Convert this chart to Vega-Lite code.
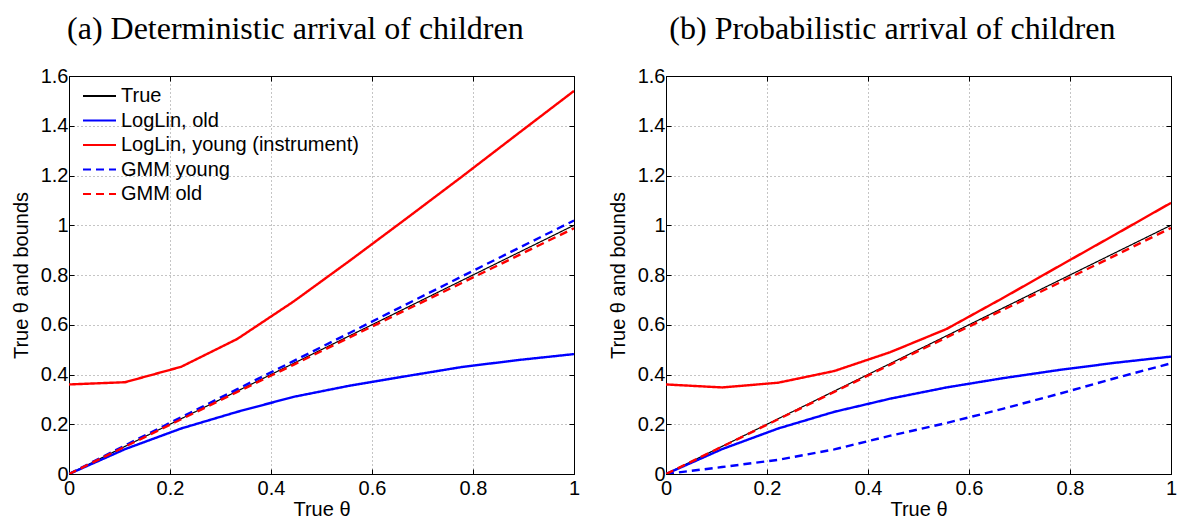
{
  "$schema": "https://vega.github.io/schema/vega-lite/v6.json",
  "padding": {"left": 10, "top": 12, "right": 2, "bottom": 0},
  "background": "white",
  "datasets": {
    "curves": [
      {"panel": "a", "series": "True", "x": 0, "y": 0},
      {"panel": "a", "series": "True", "x": 0.1111, "y": 0.1111},
      {"panel": "a", "series": "True", "x": 0.2222, "y": 0.2222},
      {"panel": "a", "series": "True", "x": 0.3333, "y": 0.3333},
      {"panel": "a", "series": "True", "x": 0.4444, "y": 0.4444},
      {"panel": "a", "series": "True", "x": 0.5556, "y": 0.5556},
      {"panel": "a", "series": "True", "x": 0.6667, "y": 0.6667},
      {"panel": "a", "series": "True", "x": 0.7778, "y": 0.7778},
      {"panel": "a", "series": "True", "x": 0.8889, "y": 0.8889},
      {"panel": "a", "series": "True", "x": 1, "y": 1},
      {"panel": "a", "series": "LogLin, old", "x": 0, "y": 0},
      {"panel": "a", "series": "LogLin, old", "x": 0.1111, "y": 0.1},
      {"panel": "a", "series": "LogLin, old", "x": 0.2222, "y": 0.183},
      {"panel": "a", "series": "LogLin, old", "x": 0.3333, "y": 0.25},
      {"panel": "a", "series": "LogLin, old", "x": 0.4444, "y": 0.31},
      {"panel": "a", "series": "LogLin, old", "x": 0.5556, "y": 0.355},
      {"panel": "a", "series": "LogLin, old", "x": 0.6667, "y": 0.393},
      {"panel": "a", "series": "LogLin, old", "x": 0.7778, "y": 0.43},
      {"panel": "a", "series": "LogLin, old", "x": 0.8889, "y": 0.458},
      {"panel": "a", "series": "LogLin, old", "x": 1, "y": 0.482},
      {"panel": "a", "series": "LogLin, young (instrument)", "x": 0, "y": 0.36},
      {"panel": "a", "series": "LogLin, young (instrument)", "x": 0.1111, "y": 0.369},
      {"panel": "a", "series": "LogLin, young (instrument)", "x": 0.2222, "y": 0.431},
      {"panel": "a", "series": "LogLin, young (instrument)", "x": 0.3333, "y": 0.543},
      {"panel": "a", "series": "LogLin, young (instrument)", "x": 0.4444, "y": 0.693},
      {"panel": "a", "series": "LogLin, young (instrument)", "x": 0.5556, "y": 0.857},
      {"panel": "a", "series": "LogLin, young (instrument)", "x": 0.6667, "y": 1.025},
      {"panel": "a", "series": "LogLin, young (instrument)", "x": 0.7778, "y": 1.195},
      {"panel": "a", "series": "LogLin, young (instrument)", "x": 0.8889, "y": 1.368},
      {"panel": "a", "series": "LogLin, young (instrument)", "x": 1, "y": 1.54},
      {"panel": "a", "series": "GMM young", "x": 0, "y": 0},
      {"panel": "a", "series": "GMM young", "x": 0.1111, "y": 0.115},
      {"panel": "a", "series": "GMM young", "x": 0.2222, "y": 0.228},
      {"panel": "a", "series": "GMM young", "x": 0.3333, "y": 0.341},
      {"panel": "a", "series": "GMM young", "x": 0.4444, "y": 0.454},
      {"panel": "a", "series": "GMM young", "x": 0.5556, "y": 0.567},
      {"panel": "a", "series": "GMM young", "x": 0.6667, "y": 0.681},
      {"panel": "a", "series": "GMM young", "x": 0.7778, "y": 0.794},
      {"panel": "a", "series": "GMM young", "x": 0.8889, "y": 0.907},
      {"panel": "a", "series": "GMM young", "x": 1, "y": 1.019},
      {"panel": "a", "series": "GMM old", "x": 0, "y": 0},
      {"panel": "a", "series": "GMM old", "x": 0.1111, "y": 0.11},
      {"panel": "a", "series": "GMM old", "x": 0.2222, "y": 0.22},
      {"panel": "a", "series": "GMM old", "x": 0.3333, "y": 0.33},
      {"panel": "a", "series": "GMM old", "x": 0.4444, "y": 0.439},
      {"panel": "a", "series": "GMM old", "x": 0.5556, "y": 0.549},
      {"panel": "a", "series": "GMM old", "x": 0.6667, "y": 0.659},
      {"panel": "a", "series": "GMM old", "x": 0.7778, "y": 0.768},
      {"panel": "a", "series": "GMM old", "x": 0.8889, "y": 0.878},
      {"panel": "a", "series": "GMM old", "x": 1, "y": 0.988},
      {"panel": "b", "series": "True", "x": 0, "y": 0},
      {"panel": "b", "series": "True", "x": 0.1111, "y": 0.1111},
      {"panel": "b", "series": "True", "x": 0.2222, "y": 0.2222},
      {"panel": "b", "series": "True", "x": 0.3333, "y": 0.3333},
      {"panel": "b", "series": "True", "x": 0.4444, "y": 0.4444},
      {"panel": "b", "series": "True", "x": 0.5556, "y": 0.5556},
      {"panel": "b", "series": "True", "x": 0.6667, "y": 0.6667},
      {"panel": "b", "series": "True", "x": 0.7778, "y": 0.7778},
      {"panel": "b", "series": "True", "x": 0.8889, "y": 0.8889},
      {"panel": "b", "series": "True", "x": 1, "y": 1},
      {"panel": "b", "series": "LogLin, old", "x": 0, "y": 0},
      {"panel": "b", "series": "LogLin, old", "x": 0.1111, "y": 0.1},
      {"panel": "b", "series": "LogLin, old", "x": 0.2222, "y": 0.183},
      {"panel": "b", "series": "LogLin, old", "x": 0.3333, "y": 0.25},
      {"panel": "b", "series": "LogLin, old", "x": 0.4444, "y": 0.303},
      {"panel": "b", "series": "LogLin, old", "x": 0.5556, "y": 0.348},
      {"panel": "b", "series": "LogLin, old", "x": 0.6667, "y": 0.385},
      {"panel": "b", "series": "LogLin, old", "x": 0.7778, "y": 0.418},
      {"panel": "b", "series": "LogLin, old", "x": 0.8889, "y": 0.447},
      {"panel": "b", "series": "LogLin, old", "x": 1, "y": 0.472},
      {"panel": "b", "series": "LogLin, young (instrument)", "x": 0, "y": 0.36},
      {"panel": "b", "series": "LogLin, young (instrument)", "x": 0.1111, "y": 0.348},
      {"panel": "b", "series": "LogLin, young (instrument)", "x": 0.2222, "y": 0.367},
      {"panel": "b", "series": "LogLin, young (instrument)", "x": 0.3333, "y": 0.414},
      {"panel": "b", "series": "LogLin, young (instrument)", "x": 0.4444, "y": 0.49},
      {"panel": "b", "series": "LogLin, young (instrument)", "x": 0.5556, "y": 0.583},
      {"panel": "b", "series": "LogLin, young (instrument)", "x": 0.6667, "y": 0.707},
      {"panel": "b", "series": "LogLin, young (instrument)", "x": 0.7778, "y": 0.835},
      {"panel": "b", "series": "LogLin, young (instrument)", "x": 0.8889, "y": 0.962},
      {"panel": "b", "series": "LogLin, young (instrument)", "x": 1, "y": 1.09},
      {"panel": "b", "series": "GMM young", "x": 0, "y": 0},
      {"panel": "b", "series": "GMM young", "x": 0.1111, "y": 0.028},
      {"panel": "b", "series": "GMM young", "x": 0.2222, "y": 0.057},
      {"panel": "b", "series": "GMM young", "x": 0.3333, "y": 0.099},
      {"panel": "b", "series": "GMM young", "x": 0.4444, "y": 0.154},
      {"panel": "b", "series": "GMM young", "x": 0.5556, "y": 0.205},
      {"panel": "b", "series": "GMM young", "x": 0.6667, "y": 0.262},
      {"panel": "b", "series": "GMM young", "x": 0.7778, "y": 0.322},
      {"panel": "b", "series": "GMM young", "x": 0.8889, "y": 0.385},
      {"panel": "b", "series": "GMM young", "x": 1, "y": 0.445},
      {"panel": "b", "series": "GMM old", "x": 0, "y": 0},
      {"panel": "b", "series": "GMM old", "x": 0.1111, "y": 0.11},
      {"panel": "b", "series": "GMM old", "x": 0.2222, "y": 0.22},
      {"panel": "b", "series": "GMM old", "x": 0.3333, "y": 0.33},
      {"panel": "b", "series": "GMM old", "x": 0.4444, "y": 0.44},
      {"panel": "b", "series": "GMM old", "x": 0.5556, "y": 0.549},
      {"panel": "b", "series": "GMM old", "x": 0.6667, "y": 0.659},
      {"panel": "b", "series": "GMM old", "x": 0.7778, "y": 0.768},
      {"panel": "b", "series": "GMM old", "x": 0.8889, "y": 0.878},
      {"panel": "b", "series": "GMM old", "x": 1, "y": 0.989}
    ]
  },
  "spacing": 26,
  "hconcat": [
    {
      "width": 505,
      "height": 398,
      "title": {"text": "(a) Deterministic arrival of children"},
      "data": {"name": "curves"},
      "transform": [{"filter": "datum.panel === 'a'"}],
      "layer": [
        {
          "transform": [{"filter": "datum.series === 'True'"}],
          "mark": {"type": "line", "clip": true, "strokeWidth": 1.2},
          "encoding": {
            "x": {"field": "x", "type": "quantitative", "scale": {"domain": [0, 1], "nice": false},
                  "axis": {"orient": "bottom", "values": [0, 0.2, 0.4, 0.6, 0.8, 1], "format": "~g", "title": "True θ", "grid": true, "labelPadding": 9, "titlePadding": 1}},
            "y": {"field": "y", "type": "quantitative", "scale": {"domain": [0, 1.6], "nice": false},
                  "axis": {"orient": "left", "values": [0, 0.2, 0.4, 0.6, 0.8, 1, 1.2, 1.4, 1.6], "format": "~g", "title": "True θ and bounds", "grid": true, "labelPadding": 6, "titlePadding": 9}},
            "color": {"field": "series", "type": "nominal",
                      "scale": {"domain": ["True", "LogLin, old", "LogLin, young (instrument)", "GMM young", "GMM old"], "range": ["#000000", "#0000ff", "#ff0000", "#0000ff", "#ff0000"]},
                      "legend": {"title": null, "orient": "none", "legendX": 13, "legendY": 10}},
            "strokeDash": {"field": "series", "type": "nominal",
                      "scale": {"domain": ["True", "LogLin, old", "LogLin, young (instrument)", "GMM young", "GMM old"], "range": [[1, 0], [1, 0], [1, 0], [8, 5], [8, 5]]},
                      "legend": {"title": null, "orient": "none", "legendX": 13, "legendY": 10}}
          }
        },
        {
          "transform": [{"filter": "datum.series !== 'True'"}],
          "mark": {"type": "line", "clip": true, "strokeWidth": 2.4},
          "encoding": {
            "x": {"field": "x", "type": "quantitative", "axis": null},
            "y": {"field": "y", "type": "quantitative", "axis": null},
            "color": {"field": "series", "type": "nominal",
                      "legend": {"title": null, "orient": "none", "legendX": 13, "legendY": 10}},
            "strokeDash": {"field": "series", "type": "nominal",
                      "legend": {"title": null, "orient": "none", "legendX": 13, "legendY": 10}}
          }
        },
        {
          "mark": {"type": "point", "opacity": 0},
          "encoding": {
            "x": {"field": "x", "type": "quantitative",
                  "axis": {"orient": "top", "values": [0, 0.2, 0.4, 0.6, 0.8, 1], "labels": false, "title": null, "grid": false}},
            "y": {"field": "y", "type": "quantitative",
                  "axis": {"orient": "right", "values": [0, 0.2, 0.4, 0.6, 0.8, 1, 1.2, 1.4, 1.6], "labels": false, "title": null, "grid": false}}
          }
        }
      ],
      "resolve": {"axis": {"x": "independent", "y": "independent"}}
    },
    {
      "width": 505,
      "height": 398,
      "title": {"text": "(b) Probabilistic arrival of children"},
      "data": {"name": "curves"},
      "transform": [{"filter": "datum.panel === 'b'"}],
      "layer": [
        {
          "transform": [{"filter": "datum.series === 'True'"}],
          "mark": {"type": "line", "clip": true, "strokeWidth": 1.2},
          "encoding": {
            "x": {"field": "x", "type": "quantitative", "scale": {"domain": [0, 1], "nice": false},
                  "axis": {"orient": "bottom", "values": [0, 0.2, 0.4, 0.6, 0.8, 1], "format": "~g", "title": "True θ", "grid": true, "labelPadding": 9, "titlePadding": 1}},
            "y": {"field": "y", "type": "quantitative", "scale": {"domain": [0, 1.6], "nice": false},
                  "axis": {"orient": "left", "values": [0, 0.2, 0.4, 0.6, 0.8, 1, 1.2, 1.4, 1.6], "format": "~g", "title": "True θ and bounds", "grid": true, "labelPadding": 6, "titlePadding": 9}},
            "color": {"field": "series", "type": "nominal",
                      "scale": {"domain": ["True", "LogLin, old", "LogLin, young (instrument)", "GMM young", "GMM old"], "range": ["#000000", "#0000ff", "#ff0000", "#0000ff", "#ff0000"]},
                      "legend": {"title": null, "orient": "none", "legendX": 13, "legendY": 10}},
            "strokeDash": {"field": "series", "type": "nominal",
                      "scale": {"domain": ["True", "LogLin, old", "LogLin, young (instrument)", "GMM young", "GMM old"], "range": [[1, 0], [1, 0], [1, 0], [8, 5], [8, 5]]},
                      "legend": {"title": null, "orient": "none", "legendX": 13, "legendY": 10}}
          }
        },
        {
          "transform": [{"filter": "datum.series !== 'True'"}],
          "mark": {"type": "line", "clip": true, "strokeWidth": 2.4},
          "encoding": {
            "x": {"field": "x", "type": "quantitative", "axis": null},
            "y": {"field": "y", "type": "quantitative", "axis": null},
            "color": {"field": "series", "type": "nominal",
                      "legend": {"title": null, "orient": "none", "legendX": 13, "legendY": 10}},
            "strokeDash": {"field": "series", "type": "nominal",
                      "legend": {"title": null, "orient": "none", "legendX": 13, "legendY": 10}}
          }
        },
        {
          "mark": {"type": "point", "opacity": 0},
          "encoding": {
            "x": {"field": "x", "type": "quantitative",
                  "axis": {"orient": "top", "values": [0, 0.2, 0.4, 0.6, 0.8, 1], "labels": false, "title": null, "grid": false}},
            "y": {"field": "y", "type": "quantitative",
                  "axis": {"orient": "right", "values": [0, 0.2, 0.4, 0.6, 0.8, 1, 1.2, 1.4, 1.6], "labels": false, "title": null, "grid": false}}
          }
        }
      ],
      "resolve": {"axis": {"x": "independent", "y": "independent"}}
    }
  ],
  "config": {
    "view": {"stroke": "black", "strokeWidth": 1},
    "title": {"font": "Liberation Serif", "fontSize": 32, "fontWeight": "normal", "color": "black", "frame": "bounds", "anchor": "middle", "offset": 20},
    "axis": {
      "labelFont": "Liberation Sans", "labelFontSize": 20, "labelColor": "black",
      "titleFont": "Liberation Sans", "titleFontSize": 20, "titleFontWeight": "normal", "titleColor": "black",
      "domainColor": "black", "domainWidth": 1, "tickColor": "black", "tickSize": -5, "tickWidth": 1,
      "gridColor": "#8a8a8a", "gridDash": [1, 3], "gridWidth": 1, "gridOpacity": 1,
      "labelFlush": false
    },
    "legend": {
      "labelFont": "Liberation Sans", "labelFontSize": 20, "labelColor": "black", "labelLimit": 400,
      "symbolType": "stroke", "symbolSize": 1089, "symbolStrokeWidth": 2,
      "clipHeight": 20, "rowPadding": 4.5, "labelOffset": 4, "padding": 0
    }
  }
}
